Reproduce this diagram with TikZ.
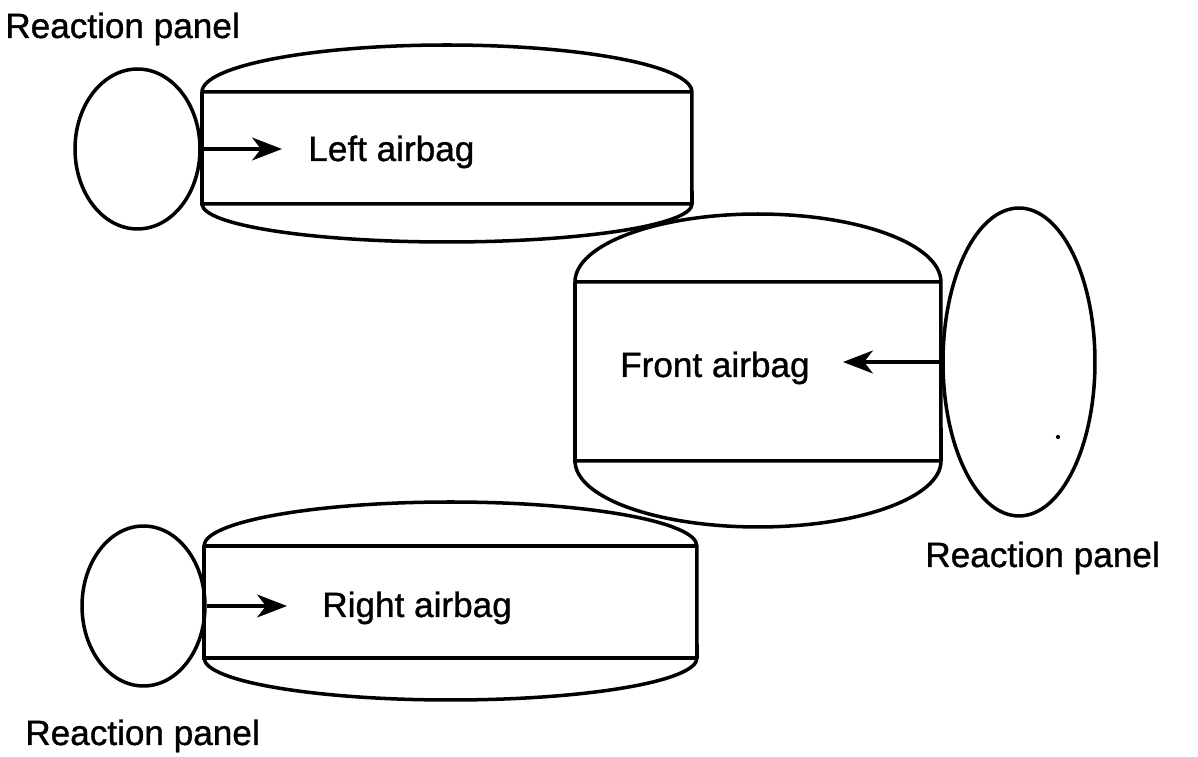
\documentclass[tikz,border=0pt]{standalone}
\usepackage{fontspec}
\setmainfont[FakeBold=1]{Liberation Sans}
\usetikzlibrary{arrows.meta,shapes.geometric}

\begin{document}
\begin{tikzpicture}[x=0.02cm,y=0.02cm,
	panel/.style={draw,ellipse,line width=2pt,inner sep=0pt},
	bag/.style={line width=2pt},
	push/.style={-{Stealth[length=17pt,width=13pt,inset=5pt]},line width=2pt},
	lbl/.style={inner sep=0pt,font=\fontsize{20}{24}\selectfont}]
	\useasboundingbox (0,0) rectangle (1198,757);
	\foreach \l/\r/\t/\b/\rx/\ct/\cb in {202/692/665/553/4.9/0.94/0.76,
		575/941/475/296/3.66/1.36/1.32, 204/697/211/99/4.93/0.88/0.84}
		\draw[bag] (\l,\b) -- (\l,\t)
		  arc[start angle=180,end angle=0,x radius=\rx cm,y radius=\ct cm] -- (\r,\b)
		  arc[start angle=0,end angle=-180,x radius=\rx cm,y radius=\cb cm] -- cycle
		  (\l,\t) -- (\r,\t) (\l,\b) -- (\r,\b);
	\node[panel,minimum width=2.5cm,minimum height=3.2cm] (lpanel) at (137.5,608) {};
	\node[panel,minimum width=3.04cm,minimum height=6.16cm] (fpanel) at (1019,395) {};
	\node[panel,minimum width=2.46cm,minimum height=3.2cm] (rpanel) at (143.5,151) {};
	\node[lbl,anchor=base west] (ltext) at (308,596) {Left airbag};
	\node[lbl,anchor=base east] (ftext) at (810,380) {Front airbag};
	\node[lbl,anchor=base west] (rtext) at (322,140) {Right airbag};
	\node[lbl,anchor=base west] (lrp) at (5,719) {Reaction panel};
	\node[lbl,anchor=base west] (frp) at (925,190) {Reaction panel};
	\node[lbl,anchor=base west] (rrp) at (25,12) {Reaction panel};
	\draw[push,shorten >=0.52cm] (lpanel.east) -- (lpanel.east -| ltext.west);
	\draw[push,shorten >=0.66cm] (fpanel.west) -- (fpanel.west -| ftext.east);
	\draw[push,shorten >=0.7cm] (rpanel.east) -- (rpanel.east -| rtext.west);
	\fill (1058,320) circle[radius=1.2pt];
\end{tikzpicture}
\end{document}
